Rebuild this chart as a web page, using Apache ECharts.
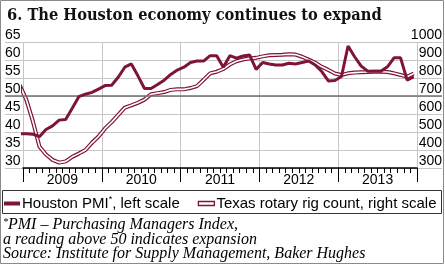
<!DOCTYPE html>
<html>
<head>
<meta charset="utf-8">
<script src="https://cdn.jsdelivr.net/npm/echarts@6/dist/echarts.min.js"></script>
<style>
html, body { margin: 0; padding: 0; background: #fff; }
#chart-container { width: 445px; height: 265px; }
</style>
</head>
<body>
<div id="chart-container"></div>
<script>
// monthly data, first entry is Dec 2008 (clipped at the left edge)
var firstYear = 2008, firstMonth = 12;
var years = ["2009", "2010", "2011", "2012", "2013"];
var pmiValues = [
  39.5, 39.5, 39.4, 38.7, 40.7, 41.7, 43.3, 43.5, 46.6, 49.8,
  50.5, 51, 51.9, 52.9, 53, 55.2, 58, 58.9, 55.6, 52.1,
  52.1, 53.2, 54.4, 56, 57.2, 58, 59.3, 59.7, 59.7, 61.2,
  61.2, 58, 61.2, 60.5, 61.1, 61.4, 57.4, 59.3, 58.9, 58.6,
  58.6, 59.1, 58.9, 59.3, 59.7, 58.6, 56.8, 54.2, 54.3, 55.4,
  63.9, 60.9, 58.3, 56.9, 56.9, 56.9, 58.1, 60.6, 60.6, 54.4,
  55.4
];
var rigValues = [
  760, 680, 560, 420, 375, 345, 330, 337, 362, 380,
  400, 440, 475, 520, 555, 595, 635, 648, 662, 680,
  710, 716, 722, 734, 737, 737, 744, 755, 790, 826,
  835, 850, 875, 893, 903, 909, 912, 920, 926, 928,
  929, 932, 930, 918, 902, 885, 862, 845, 825, 817,
  826, 830, 832, 833, 835, 835, 833, 826, 817, 807,
  825
];
var leftScale = { min: 30, max: 65, step: 5 };
var rightScale = { min: 300, max: 1000, step: 100 };

var maroon = "#7e1437";
var grey = "#c6c6c6";
var sans = "Liberation Sans";

// months since Jan 2009, plotted mid-month
function monthPos(i) {
  return (firstYear - 2009) * 12 + (firstMonth - 1) + i + 0.5;
}
var pmiData = pmiValues.map(function (v, i) { return [monthPos(i), v]; });
var rigData = rigValues.map(function (v, i) { return [monthPos(i), v]; });

var dom = document.getElementById("chart-container");
var myChart = echarts.init(dom, null, { renderer: "canvas" });

var tickLabel = {
  inside: true,
  margin: 0,
  verticalAlign: "bottom",
  color: "#000",
  fontFamily: sans,
  fontSize: 14,
  lineHeight: 14,
  formatter: function (v) { return String(v); }
};

var option = {
  backgroundColor: "#fff",
  animation: false,
  grid: [
    { left: 5, right: 2, top: 42, bottom: 97 },
    { left: 23, right: 28, top: 42, bottom: 97 }
  ],
  xAxis: [
    { gridIndex: 0, type: "value", min: 0, max: 1, show: false },
    {
      gridIndex: 1,
      type: "value",
      min: 0,
      max: years.length * 12,
      interval: 12,
      axisLine: { lineStyle: { color: "#000", width: 1.5 } },
      axisTick: { length: 14, customValues: [0, 12, 24, 36, 48, 60], lineStyle: { color: "#000" } },
      minorTick: { show: true, splitNumber: 12, length: 5, lineStyle: { color: "#000" } },
      splitLine: { show: true, lineStyle: { color: grey } },
      axisLabel: {
        customValues: years.map(function (y, i) { return i * 12 + 6; }),
        formatter: function (v) { return years[Math.floor(v / 12)]; },
        color: "#000",
        fontFamily: sans,
        fontSize: 14,
        margin: 5
      }
    }
  ],
  yAxis: [
    {
      gridIndex: 0,
      type: "value",
      position: "left",
      min: leftScale.min,
      max: leftScale.max,
      interval: leftScale.step,
      axisLine: { show: false },
      axisTick: { show: false },
      splitLine: { lineStyle: { color: grey } },
      axisLabel: tickLabel
    },
    {
      gridIndex: 0,
      type: "value",
      position: "right",
      min: rightScale.min,
      max: rightScale.max,
      interval: rightScale.step,
      axisLine: { show: false },
      axisTick: { show: false },
      splitLine: { show: false },
      axisLabel: tickLabel
    },
    { gridIndex: 1, type: "value", min: leftScale.min, max: leftScale.max, show: false },
    { gridIndex: 1, type: "value", min: rightScale.min, max: rightScale.max, show: false }
  ],
  legend: {
    left: 4,
    top: 195,
    width: 440,
    padding: 0,
    itemGap: 18,
    itemWidth: 16,
    itemHeight: 4,
    selectedMode: false,
    textStyle: {
      color: "#000",
      fontFamily: sans,
      fontSize: 15,
      padding: [0, 0, 0, -3],
      rich: { sup: { fontSize: 9, verticalAlign: "top", padding: [0, 0, 8, 0], fontFamily: sans } }
    },
    formatter: function (name) {
      return name === "Houston PMI" ? "Houston PMI{sup|*}, left scale" : name;
    },
    data: [
      { name: "Houston PMI", icon: "rect", itemStyle: { color: maroon } },
      {
        name: "Texas rotary rig count, right scale",
        icon: "rect",
        itemStyle: { color: "#fff", borderColor: maroon, borderWidth: 1.3 }
      }
    ]
  },
  graphic: [
    { type: "rect", shape: { x: 0.5, y: 0.5, width: 443, height: 263 }, style: { fill: null, stroke: "#8a8a8a", lineWidth: 1 }, silent: true },
    { type: "rect", shape: { x: 2.5, y: 190.5, width: 439, height: 23 }, style: { fill: null, stroke: "#333", lineWidth: 1 }, silent: true },
    {
      type: "text", left: 7, top: 8,
      style: { text: "6. The Houston economy continues to expand", fill: "#111", font: "bold 16.3px 'DejaVu Serif Condensed', 'DejaVu Serif'" }
    },
    {
      type: "text", left: 3, top: 217,
      style: {
        text: "{s|*}PMI – Purchasing Managers Index,\na reading above 50 indicates expansion\nSource: Institute for Supply Management, Baker Hughes",
        fill: "#000",
        font: "italic 16px 'Liberation Serif'",
        lineHeight: 14.5,
        rich: { s: { font: "italic 10px 'Liberation Serif'", verticalAlign: "top" } }
      }
    }
  ],
  series: [
    {
      name: "fifty",
      type: "line",
      xAxisIndex: 0,
      yAxisIndex: 0,
      data: [],
      silent: true,
      markLine: {
        silent: true,
        symbol: "none",
        label: { show: false },
        lineStyle: { color: "#6f6f6f", width: 1.5, type: "solid" },
        data: [{ yAxis: 50 }]
      }
    },
    {
      name: "Texas rotary rig count, right scale",
      type: "line",
      xAxisIndex: 1,
      yAxisIndex: 3,
      data: rigData,
      showSymbol: false,
      itemStyle: { color: "#fff", borderColor: maroon },
      lineStyle: { color: maroon, width: 4 },
      z: 3
    },
    {
      name: "rig inner",
      type: "line",
      xAxisIndex: 1,
      yAxisIndex: 3,
      data: rigData,
      showSymbol: false,
      lineStyle: { color: "#fff", width: 1.6 },
      z: 4
    },
    {
      name: "Houston PMI",
      type: "line",
      xAxisIndex: 1,
      yAxisIndex: 2,
      data: pmiData,
      showSymbol: false,
      itemStyle: { color: maroon },
      lineStyle: { color: maroon, width: 3 },
      z: 5
    }
  ]
};

myChart.setOption(option);
window.addEventListener("resize", myChart.resize);
</script>
</body>
</html>
